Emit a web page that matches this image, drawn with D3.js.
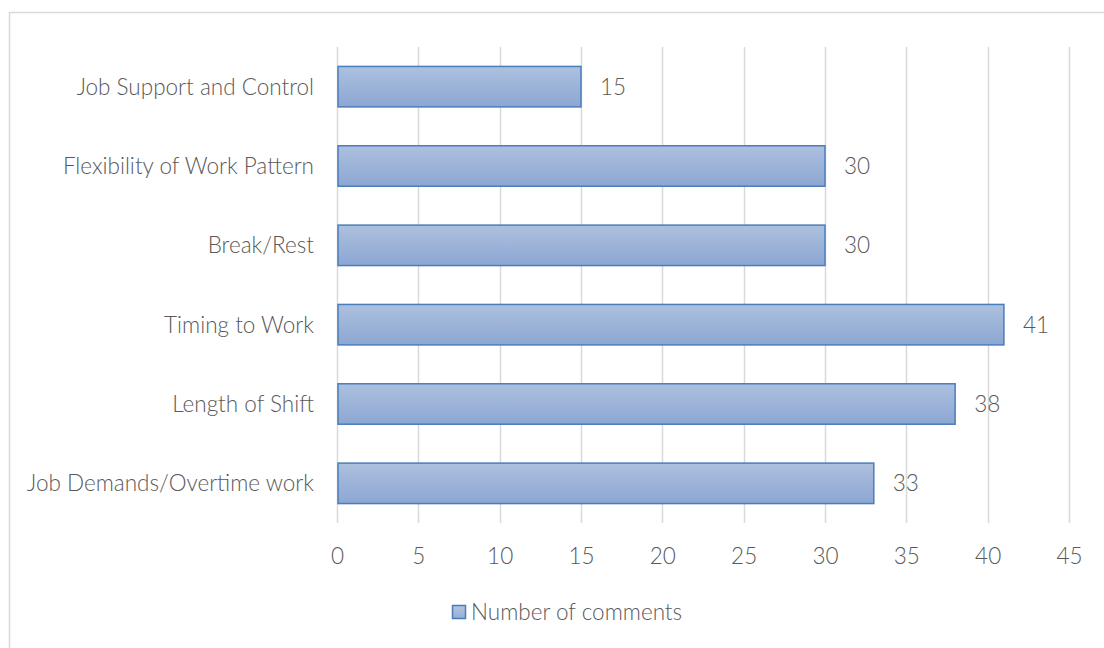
<!DOCTYPE html>
<html>
<head>
<meta charset="utf-8">
<script src="https://cdn.jsdelivr.net/npm/d3@7"></script>
<style>
  html, body { margin: 0; padding: 0; background: #fff; }
  svg { display: block; }
  text { font-family: Lato, "Open Sans", sans-serif; fill: #595959; font-weight: 300; }
</style>
</head>
<body>
<svg id="chart" width="1104" height="648"></svg>
<script>
// Survey comment counts by topic (top to bottom)
const categories = [
  "Job Support and Control",
  "Flexibility of Work Pattern",
  "Break/Rest",
  "Timing to Work",
  "Length of Shift",
  "Job Demands/Overtime work"
];
const commentCounts = [15, 30, 30, 41, 38, 33];
const xTicks = [0, 5, 10, 15, 20, 25, 30, 35, 40, 45];
const seriesName = "Number of comments";

const svg = d3.select("#chart");
const W = 1104, H = 648;
const FONT = "22.5px";
const NUDGE = "0.1em";

// chart frame
svg.append("rect")
  .attr("x", 9.5).attr("y", 12.5)
  .attr("width", W + 20).attr("height", H + 20)
  .attr("fill", "#fff").attr("stroke", "#d9d9d9").attr("stroke-width", 1.5);

const plot = { left: 337, right: 1069, top: 47, bottom: 523 };

const x = d3.scaleLinear().domain([0, 45]).range([plot.left, plot.right]);
const y = d3.scaleBand().domain(categories).range([plot.top, plot.bottom]).paddingInner(0.49).paddingOuter(0.245);

// gradient fill for bars
const defs = svg.append("defs");
const grad = defs.append("linearGradient").attr("id", "barGrad")
  .attr("x1", 0).attr("y1", 0).attr("x2", 0).attr("y2", 1);
grad.append("stop").attr("offset", "0%").attr("stop-color", "#adc0de");
grad.append("stop").attr("offset", "100%").attr("stop-color", "#8ca7d3");

const legendGrad = defs.append("linearGradient").attr("id", "legGrad")
  .attr("x1", 0).attr("y1", 0).attr("x2", 0).attr("y2", 1);
legendGrad.append("stop").attr("offset", "0%").attr("stop-color", "#b3c5e1");
legendGrad.append("stop").attr("offset", "100%").attr("stop-color", "#95add6");

// vertical gridlines
svg.append("g")
  .selectAll("line")
  .data(xTicks)
  .join("line")
  .attr("x1", d => Math.round(x(d)) + 0.5)
  .attr("x2", d => Math.round(x(d)) + 0.5)
  .attr("y1", plot.top)
  .attr("y2", plot.bottom)
  .attr("stroke", "#d9d9d9")
  .attr("stroke-width", 1.5);

// x axis tick labels
const xAxis = d3.axisBottom(x).tickValues(xTicks).tickSize(0).tickPadding(0);
const gx = svg.append("g").attr("transform", `translate(0, ${plot.bottom + 33})`).call(xAxis);
gx.select(".domain").remove();
gx.selectAll("text")
  .attr("dy", NUDGE)
  .attr("dominant-baseline", "middle")
  .style("font-size", FONT)
  .style("font-family", "Lato, 'Open Sans', sans-serif")
  .style("font-weight", 300)
  .attr("fill", "#595959");

// category labels
const yAxis = d3.axisLeft(y).tickSize(0).tickPadding(0);
const gy = svg.append("g").attr("transform", `translate(${plot.left - 23}, 0)`).call(yAxis);
gy.select(".domain").remove();
gy.selectAll("text")
  .attr("dy", NUDGE)
  .attr("dominant-baseline", "middle")
  .style("font-size", FONT)
  .style("font-family", "Lato, 'Open Sans', sans-serif")
  .style("font-weight", 300)
  .attr("fill", "#595959");

// bars
const rows = categories.map((c, i) => ({ cat: c, val: commentCounts[i] }));
svg.append("g")
  .selectAll("rect")
  .data(rows)
  .join("rect")
  .attr("x", x(0) + 1)
  .attr("y", d => y(d.cat))
  .attr("width", d => x(d.val) - x(0) - 1)
  .attr("height", y.bandwidth())
  .attr("fill", "url(#barGrad)")
  .attr("stroke", "#4a7ebb")
  .attr("stroke-width", 1.5);

// value labels
svg.append("g")
  .selectAll("text")
  .data(rows)
  .join("text")
  .attr("x", d => x(d.val) + 19)
  .attr("y", d => y(d.cat) + y.bandwidth() / 2)
  .attr("dy", NUDGE)
  .attr("dominant-baseline", "middle")
  .style("font-size", FONT)
  .text(d => d.val);

// legend
const lg = svg.append("g").attr("transform", "translate(452, 605)");
lg.append("rect")
  .attr("x", 0.5).attr("y", 0.5).attr("width", 13).attr("height", 13)
  .attr("fill", "url(#legGrad)").attr("stroke", "#4a7ebb").attr("stroke-width", 1.5);
lg.append("text")
  .attr("x", 19).attr("y", 7.5)
  .attr("dy", NUDGE)
  .attr("dominant-baseline", "middle")
  .style("font-size", FONT)
  .text(seriesName);
</script>
</body>
</html>
